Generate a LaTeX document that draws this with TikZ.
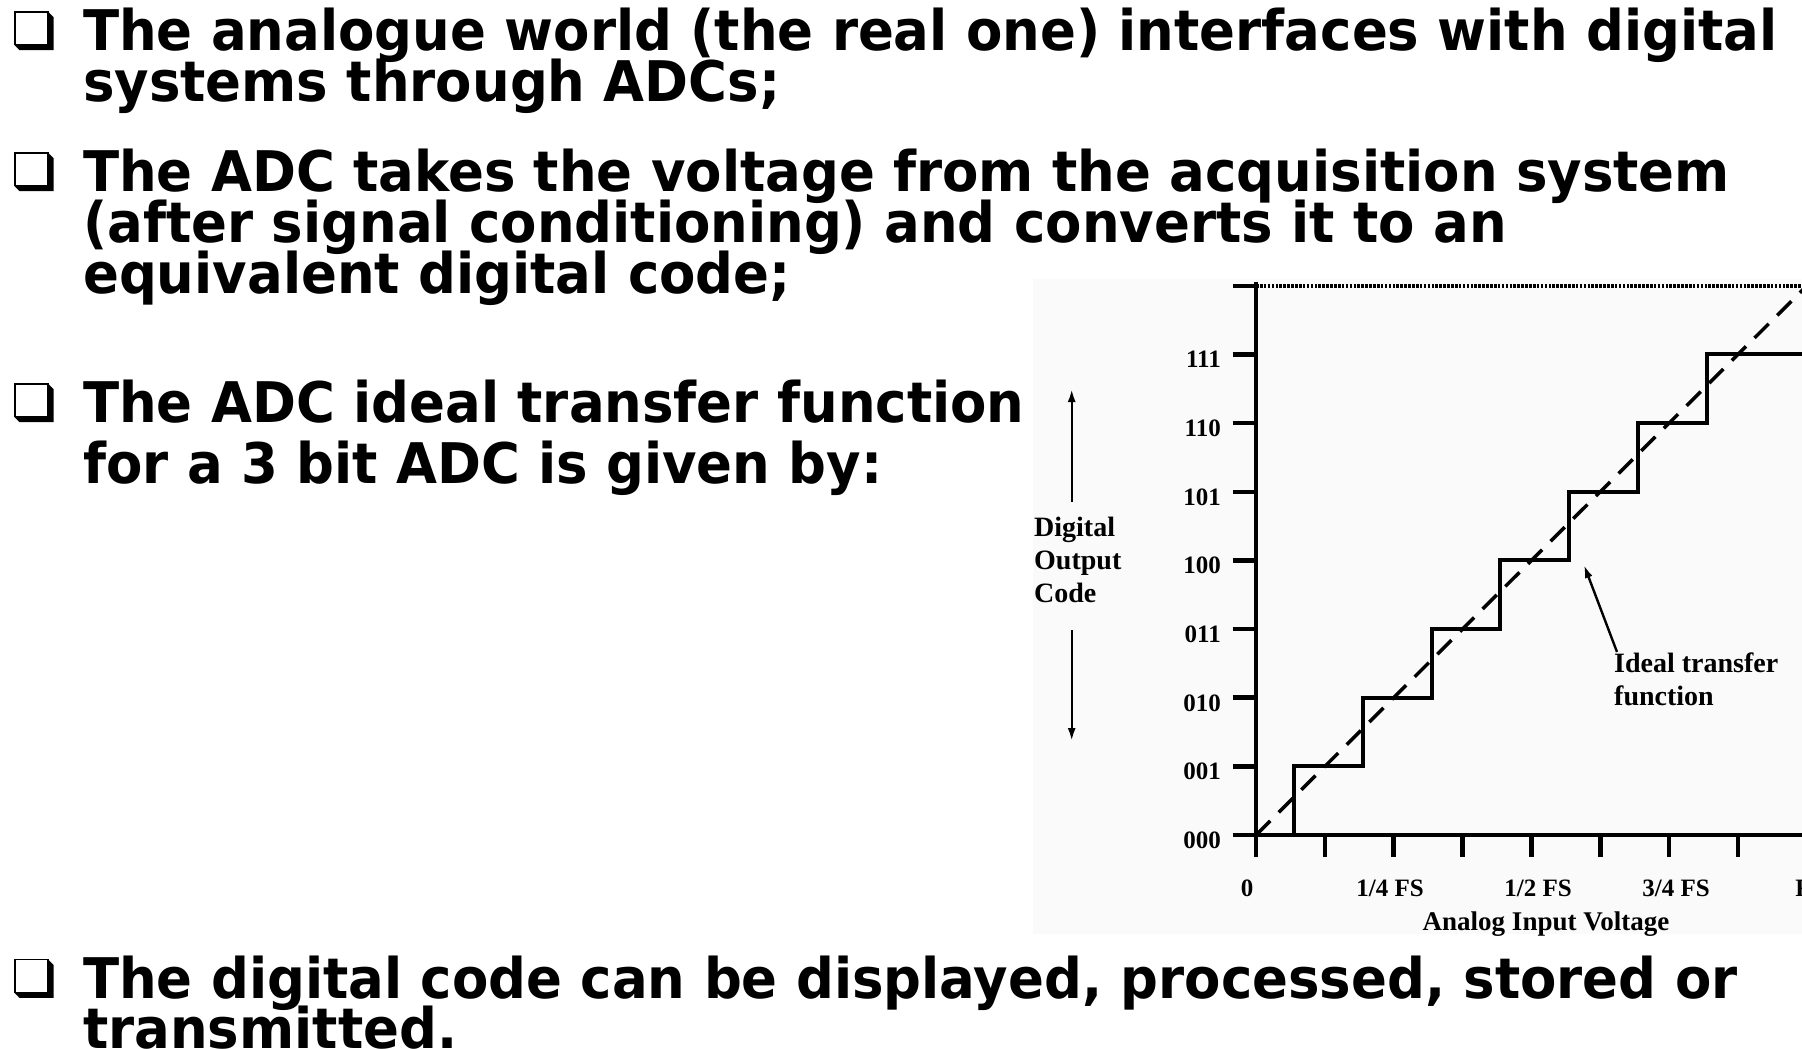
\documentclass[tikz,border=0pt]{standalone}
\usepackage{fontspec}
\newfontfamily\slidefont{DejaVu Sans}[FakeStretch=0.945]
\newfontfamily\chartfont{Liberation Serif}
\usetikzlibrary{arrows.meta}
\begin{document}
\begin{tikzpicture}[x=1pt,y=-1pt,
  slide/.style={anchor=base west,inner sep=0pt,font=\slidefont\bfseries\fontsize{56}{56}\selectfont},
  ticklab/.style={inner sep=0pt,font=\chartfont\bfseries\fontsize{25}{25}\selectfont},
  bigLab/.style={inner sep=0pt,font=\chartfont\bfseries\fontsize{28}{28}\selectfont},
  arr/.style={line width=2.4pt,-{Latex[length=13pt,width=8pt]}},
  chk/.pic={\fill[black] (34,0.5)--(39.5,6)--(39.5,39)--(5.5,39)--(0,33.5)--(34,33.5)--cycle;
            \draw[line width=1.5pt,fill=white] (0.75,0.75) rectangle (34,33.5);},
  axisline/.style={line width=4.5pt},
  stair/.style={line width=4pt,line join=miter},
  ideal/.style={line width=3.5pt,dash pattern=on 20pt off 12pt},
  dotline/.style={line width=4.5pt,dash pattern=on 2.6pt off 1.3pt}
]
\useasboundingbox (0,0) rectangle (1802,1049);
\clip (0,0) rectangle (1802,1049);
\fill[white] (0,0) rectangle (1802,1049);
% chart background
\fill[black!2] (1033,279) rectangle (1802,934);

% bullets
\pic at (14,11.2) {chk};
\pic at (14,152.2) {chk};
\pic at (14,383.2) {chk};
\pic at (14,958.8) {chk};

\node[slide] (b1a) at (83,50.7) {The analogue world (the real one) interfaces with digital};
\node[slide] (b1b) at (83,101.7) {systems through ADCs;};
\node[slide] (b2a) at (83,191.7) {The ADC takes the voltage from the acquisition system};
\node[slide] (b2b) at (83,242.7) {(after signal conditioning) and converts it to an};
\node[slide] (b2c) at (83,293.3) {equivalent digital code;};
\node[slide] (b3a) at (83,422.5) {The ADC ideal transfer function};
\node[slide] (b3b) at (83,483.3) {for a 3 bit ADC is given by:};
\node[slide] (b4a) at (83,998.3) {The digital code can be displayed, processed, stored or};
\node[slide] (b4b) at (83,1048.5) {transmitted.};

% chart
\begin{scope}[shift={(1256,835)},x=68.85pt,y=68.65pt]
  \draw[dotline] (0,8) -- (8.3,8);
  \draw[axisline] (-0.34,8) -- (0,8);
  \draw[axisline] (0,8.05) -- (0,-0.32);
  \draw[axisline] (0,0) -- (8.3,0);
  \foreach \k in {1,...,7} \draw[axisline] (-0.34,\k) -- (0,\k);
  \draw[axisline] (-0.34,0) -- (0,0);
  \foreach \i in {1,...,8} \draw[axisline] (\i,0) -- (\i,-0.32);
  \draw[stair] (0,0) -- (0.55,0) -- (0.55,1) -- (1.55,1) -- (1.55,2) -- (2.55,2) -- (2.55,3)
     -- (3.55,3) -- (3.55,4) -- (4.55,4) -- (4.55,5) -- (5.55,5) -- (5.55,6) -- (6.55,6)
     -- (6.55,7) -- (8.3,7);
  \draw[ideal] (0,0) -- (8,8);
\end{scope}

% y labels
\foreach \k/\t in {0/000,1/001,2/010,3/011,4/100,5/101,6/110,7/111}
  \node[ticklab,anchor=base east] (yl\k) at (1221,{848.5-68.65*\k}) {\t};

% x labels
\node[ticklab,anchor=base] (xl0) at (1247,896.5) {0};
\node[ticklab,anchor=base] (xl1) at (1390,896.5) {1/4 FS};
\node[ticklab,anchor=base] (xl2) at (1538,896.5) {1/2 FS};
\node[ticklab,anchor=base] (xl3) at (1676,896.5) {3/4 FS};
\node[ticklab,anchor=base] (xl4) at (1810,896.5) {FS};
\node[inner sep=0pt,font=\chartfont\bfseries\fontsize{27}{27}\selectfont,anchor=base] (xtitle) at (1546,930) {Analog Input Voltage};

% y title
\node[bigLab,anchor=base west] (yt1) at (1034,536) {Digital};
\node[bigLab,anchor=base west] (yt2) at (1034,569) {Output};
\node[bigLab,anchor=base west] (yt3) at (1034,602) {Code};
\coordinate (uptail) at (1071.7,502);
\coordinate (uptip) at (1071.7,389);
\coordinate (dntail) at (1071.7,630);
\coordinate (dntip) at (1071.7,741);
\draw[arr] (uptail) -- (uptip);
\draw[arr] (dntail) -- (dntip);

% ideal transfer label
\node[bigLab,anchor=base west] (it1) at (1614,672) {Ideal transfer};
\node[bigLab,anchor=base west] (it2) at (1614,705) {function};
\coordinate (itail) at (1617,652);
\coordinate (itip) at (1584,565);
\draw[arr] (itail) -- (itip);
\end{tikzpicture}
\end{document}
